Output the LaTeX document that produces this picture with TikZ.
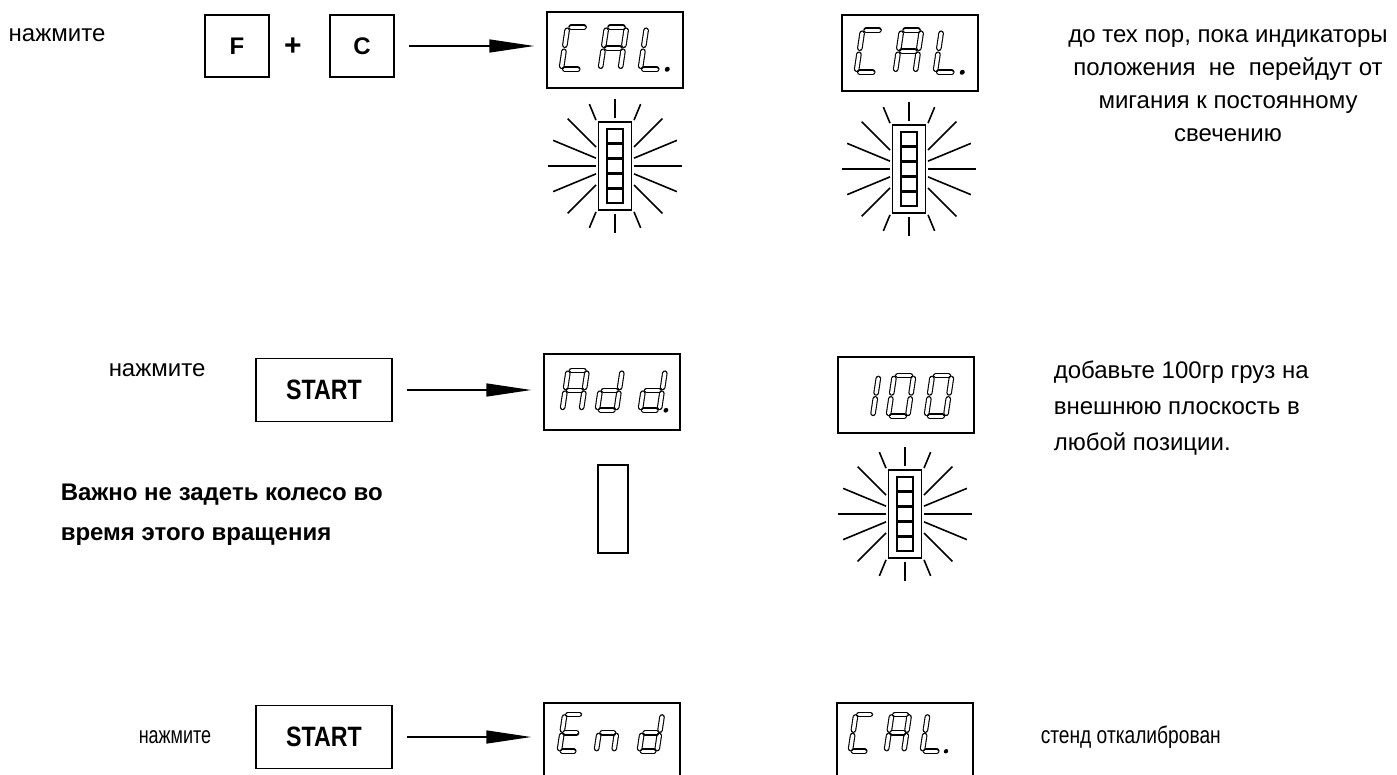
\documentclass[tikz,border=0pt]{standalone}
\usepackage{graphicx}
\usepackage{fontspec}
\setmainfont{Liberation Sans}
\usetikzlibrary{positioning, calc, arrows.meta}

% one segment of a display digit, 0..6 = a..g, 7 = point
\newcommand{\segment}[1]{%
  \ifcase#1
    \draw[seg] (3.5,42) -- (16.5,42);
  \or \draw[seg] (20,39) -- (20,24);
  \or \draw[seg] (20,18) -- (20,3);
  \or \draw[seg] (3.5,0) -- (16.5,0);
  \or \draw[seg] (0,3) -- (0,18);
  \or \draw[seg] (0,24) -- (0,39);
  \or \draw[seg] (3.5,21) -- (16.5,21);
  \or \fill (27,0) circle (2.5);
  \fi}
\newcommand{\digit}[5]{%
  \begin{scope}[shift={($(#1.north west)+(#2,#3)$)}, xscale=#4, yscale=-#4, xslant=-0.15]
    \foreach \s in {#5} {\segment{\s}}
  \end{scope}}

\begin{document}
\begin{tikzpicture}[x=1pt, y=-1pt, line width=1.5pt,
    txt/.style={font=\fontsize{24}{33}\selectfont, inner sep=0pt},
    key/.style={draw, minimum width=64, minimum height=62, font=\bfseries\fontsize{24}{24}\selectfont},
    startkey/.style={draw, minimum width=136, minimum height=63, font=\bfseries\fontsize{28}{28}\selectfont},
    disp/.style={draw, minimum width=136, minimum height=76},
    bar/.style={draw, minimum width=33, minimum height=88},
    halo/.style={minimum width=38, minimum height=96, inner sep=0pt, outer sep=0pt},
    seg/.style={line width=1.1pt, double=white, double distance=3.4pt, line cap=round},
    ray/.style={line width=1.6pt},
    push/.style={-{Triangle[length=45pt, width=13pt]}, shorten <=14pt, shorten >=12pt}]
\useasboundingbox (0,0) rectangle (1397,774);

% row 1
\node[txt, anchor=west] (press1) at (8,35) {нажмите};
\node[key] (keyF) at (237,46) {F};
\node[font=\bfseries\fontsize{30}{30}\selectfont] (plus) at (293,47) {+};
\node[key] (keyC) at (362,46) {C};
\node[disp] (cal1) at (615,50) {};
\node[disp] (cal2) at (910,53) {};
\node[bar] (bar1) at (615,166) {};
\node[bar] (bar2) at (909,169) {};
\node[txt, align=center] (note1) at (1228,86) {до тех пор, пока индикаторы\\положения\ \ не\ \ перейдут от\\мигания к постоянному\\свечению};

% row 2
\node[txt, anchor=west] (press2) at (108,370) {нажмите};
\node[startkey] (start2) at (324,390) {\scalebox{0.83}[1]{START}};
\node[disp] (add) at (612,392) {};
\node[disp] (hundred) at (906,395) {};
\node[draw, minimum width=30, minimum height=88] (idle) at (613,509) {};
\node[bar] (bar3) at (905,514) {};
\node[txt, font=\bfseries\fontsize{24}{40}\selectfont, align=left, anchor=west] (warn) at (60,515) {Важно не задеть колесо во\\время этого вращения};
\node[txt, font=\fontsize{24}{36}\selectfont, align=left, anchor=west] (note2) at (1053,408) {добавьте 100гр груз на\\внешнюю плоскость в\\любой позиции.};

% row 3
\node[txt, anchor=west] (press3) at (138,737) {\scalebox{0.75}[1]{нажмите}};
\node[startkey] (start3) at (324,737) {\scalebox{0.83}[1]{START}};
\node[disp] (endd) at (612,741) {};
\node[disp] (cal3) at (905,741) {};
\node[txt, anchor=west] (note3) at (1040,737) {\scalebox{0.8}[1]{стенд откалиброван}};

\draw[push] (keyC.east) -- (keyC.east -| cal1.west);
\draw[push] (start2.east) -- (start2.east -| add.west);
\draw[push] (start3.east) -- (start3.east -| endd.west);

% displays
\digit{cal1}{15}{58}{1}{0,3,4,5}
\digit{cal1}{54}{58}{1}{0,1,2,4,5,6}
\digit{cal1}{94}{58}{1}{3,4,5,7}
\digit{cal2}{15}{58}{1}{0,3,4,5}
\digit{cal2}{54}{58}{1}{0,1,2,4,5,6}
\digit{cal2}{94}{58}{1}{3,4,5,7}
\digit{add}{19}{57}{0.95}{0,1,2,4,5,6}
\digit{add}{54}{57}{0.95}{1,2,3,4,6}
\digit{add}{97}{57}{0.95}{1,2,3,4,6,7}
\digit{hundred}{16}{60}{0.97}{1,2}
\digit{hundred}{51}{60}{0.97}{0,1,2,3,4,5}
\digit{hundred}{89}{60}{0.97}{0,1,2,3,4,5}
\digit{endd}{16}{49}{0.88}{0,3,4,5,6}
\digit{endd}{53}{49}{0.88}{2,4,6}
\digit{endd}{96}{49}{0.88}{1,2,3,4,6}
\digit{cal3}{14}{49}{0.88}{0,3,4,5}
\digit{cal3}{50}{49}{0.88}{0,1,2,4,5,6}
\digit{cal3}{86}{49}{0.88}{3,4,5,7}

% blinking position bars
\foreach \n in {1,2,3} {
  \node[halo] (halo\n) at (bar\n) {};
  \foreach \k in {-2,...,2}
    \draw[line width=1.2pt] ($(bar\n)+(-8,\k*15-7)$) rectangle +(16,14);
  \foreach \a in {0,22.5,...,337.5}
    \draw[ray] (halo\n) -- ($(halo\n)+(\a:67pt)$);
}
\end{tikzpicture}
\end{document}
